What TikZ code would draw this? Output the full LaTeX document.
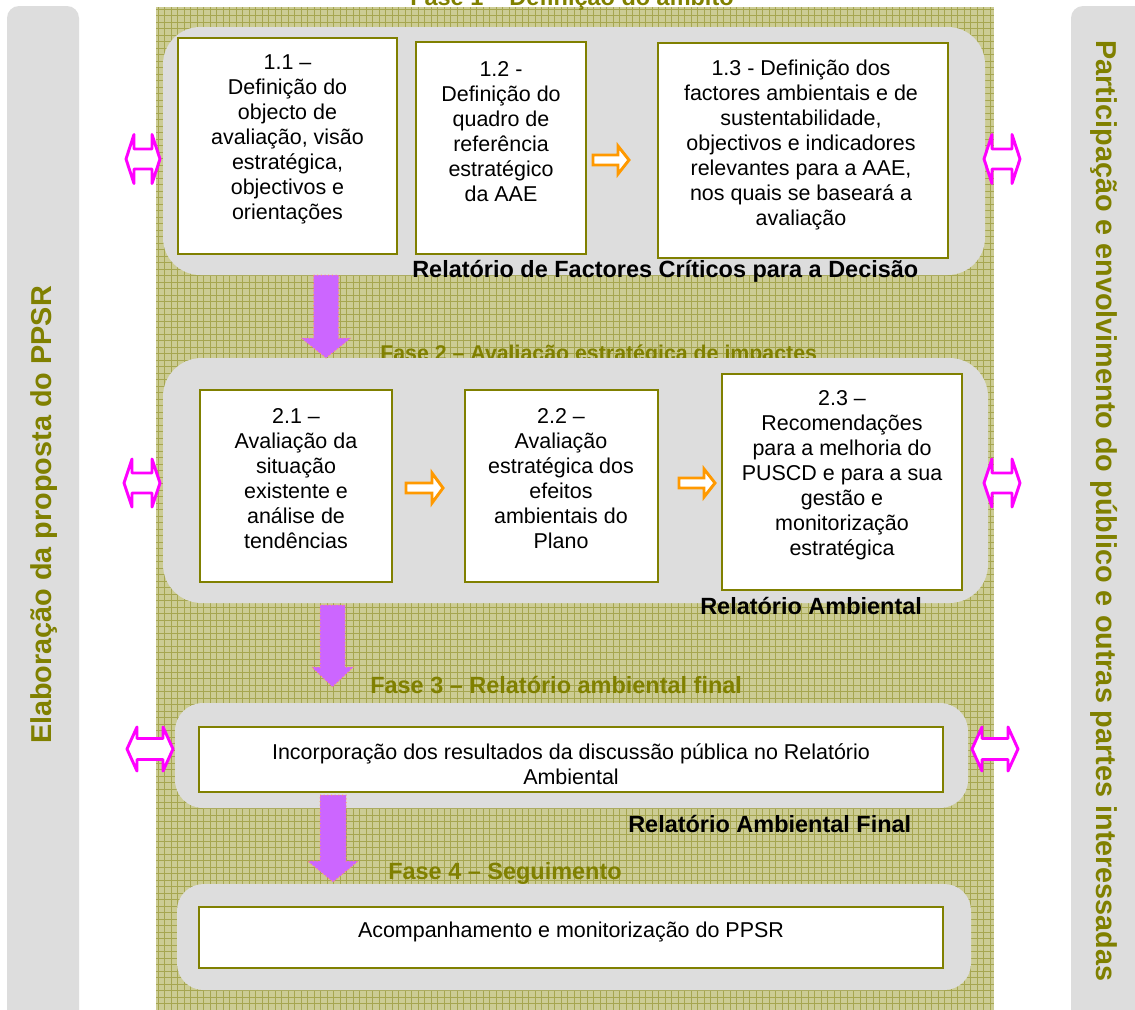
\documentclass[tikz,border=0pt]{standalone}
\usepackage{fontspec}
\setmainfont{Liberation Sans}
\usetikzlibrary{fit}
\definecolor{olive}{RGB}{128,128,0}
\definecolor{panel}{RGB}{221,221,221}
\definecolor{hatchbg}{RGB}{204,204,148}
\definecolor{hatchln}{RGB}{166,166,80}
\definecolor{purp}{RGB}{204,102,255}
\definecolor{purpedge}{RGB}{255,153,102}
\definecolor{pinkln}{RGB}{255,0,255}
\definecolor{orangeln}{RGB}{255,153,0}
\newcommand\purarr[6]{\draw[purarrow] (#1-#4,#2) -- (#1+#4,#2) -- (#1+#4,#6) -- (#1+#5,#6) -- (#1,#3) -- (#1-#5,#6) -- (#1-#4,#6) -- cycle;}
\newcommand\pkarr[6]{\draw[pinkarrow] (#1,#3) -- (#1+#6,#3-#4) -- (#1+#6,#3-#5) -- (#2-#6,#3-#5) -- (#2-#6,#3-#4) -- (#2,#3) -- (#2-#6,#3+#4) -- (#2-#6,#3+#5) -- (#1+#6,#3+#5) -- (#1+#6,#3+#4) -- cycle;}
\newcommand\orarr[6]{\draw[orangearrow] (#1,#3-#5) -- (#2-#6,#3-#5) -- (#2-#6,#3-#4) -- (#2,#3) -- (#2-#6,#3+#4) -- (#2-#6,#3+#5) -- (#1,#3+#5) -- cycle;}
\begin{document}
\begin{tikzpicture}[x=0.75pt,y=-0.75pt,
  phasebox/.style={fill=panel, inner sep=0pt, rounded corners=#1},
  stepbox/.style={draw=olive, fill=white, line width=1.5pt, inner sep=0pt},
  bodytxt/.style={align=center, inner sep=0pt, font=\fontsize{16.1pt}{18.75pt}\selectfont},
  heading/.style={anchor=base west, inner sep=0pt, font=\bfseries\fontsize{17.6pt}{21pt}\selectfont},
  sidetxt/.style={inner sep=0pt, text=olive, font=\bfseries\fontsize{21.6pt}{26pt}\selectfont},
  purarrow/.style={fill=purp, draw=purpedge, line width=0.75pt, dotted},
  pinkarrow/.style={fill=white, draw=pinkln, line width=2.2pt, line join=round},
  orangearrow/.style={fill=white, draw=orangeln, line width=2.2pt, line join=miter}]
\useasboundingbox (0,0) rectangle (1135,1010);
\fill[white] (0,0) rectangle (1135,1010);
% side bars
\fill[panel, rounded corners=9pt] (7,6) rectangle (79,1040);
\fill[panel, rounded corners=9pt] (1071,6) rectangle (1160,1040);
\node[sidetxt, rotate=90] (leftlbl) at (44,515) {Elaboração da proposta do PPSR};
\node[sidetxt, rotate=-90] (rightlbl) at (1104,511) {Participação e envolvimento do público e outras partes interessadas};
% hatched background
\fill[hatchbg] (156,7) rectangle (994,1010);
\begin{scope}
\clip (156,7) rectangle (994,1010);
\foreach \x in {158,164.5,...,994} \draw[hatchln, line width=0.65pt] (\x,7) -- (\x,1010);
\foreach \y in {9,15.5,...,1010} \draw[hatchln, line width=0.65pt] (156,\y) -- (994,\y);
\end{scope}
% phase titles
\node[heading, text=olive] (f1) at (410,5) {Fase 1 – Definição do âmbito};
\node[heading, text=olive, font=\bfseries\fontsize{16pt}{19pt}\selectfont] (f2) at (380,360) {Fase 2 – Avaliação estratégica de impactes};
% phase panels
\node[phasebox=28pt, fit={(163,27) (985,275)}] (p1) {};
\node[phasebox=29pt, fit={(163,358) (988,603)}] (p2) {};
\node[phasebox=21pt, fit={(175,703) (968,808)}] (p3) {};
\node[phasebox=20pt, fit={(177,884) (971,990)}] (p4) {};
% step boxes
\node[stepbox, fit={(178,38) (397,254)}] (b11) {};
\node[stepbox, fit={(416,42) (586,254)}] (b12) {};
\node[stepbox, fit={(658,43) (948,258)}] (b13) {};
\node[stepbox, fit={(200,390) (392,582)}] (b21) {};
\node[stepbox, fit={(465,390) (658,582)}] (b22) {};
\node[stepbox, fit={(722,374) (962,590)}] (b23) {};
\node[stepbox, fit={(199,727) (943,792)}] (b3) {};
\node[stepbox, fit={(199,907) (943,968)}] (b4) {};
% texts
\node[bodytxt] (t11) at (287.5,139) {1.1 –\\Definição do\\objecto de\\avaliação, visão\\estratégica,\\objectivos e\\orientações};
\node[bodytxt] (t12) at (501,131.5) {1.2 -\\Definição do\\quadro de\\referência\\estratégico\\da AAE};
\node[bodytxt] (t13) at (801,145) {1.3 - Definição dos\\factores ambientais e de\\sustentabilidade,\\objectivos e indicadores\\relevantes para a AAE,\\nos quais se baseará a\\avaliação};
\node[bodytxt] (t21) at (296,479) {2.1 –\\Avaliação da\\situação\\existente e\\análise de\\tendências};
\node[bodytxt] (t22) at (561,479) {2.2 –\\Avaliação\\estratégica dos\\efeitos\\ambientais do\\Plano};
\node[bodytxt] (t23) at (842,475.5) {2.3 –\\Recomendações\\para a melhoria do\\PUSCD e para a sua\\gestão e\\monitorização\\estratégica};
\node[bodytxt] (t3) at (571,764) {Incorporação dos resultados da discussão pública no Relatório\\Ambiental};
\node[bodytxt] (t4) at (571,932) {Acompanhamento e monitorização do PPSR};
% orange arrows
\orarr{593}{629}{160}{14}{5}{11}
\orarr{406}{443}{488}{15}{5}{11}
\orarr{679}{715}{483}{14}{5}{11}
% purple arrows
\purarr{326}{275}{358}{12.5}{25}{338}
\purarr{332.5}{605}{687}{12.5}{21}{667}
\purarr{333}{795}{882}{13}{25.5}{861}
% pink double arrows
\pkarr{126}{160}{159}{24.5}{10}{8}
\pkarr{984}{1020}{159}{24.5}{10}{8}
\pkarr{124}{160}{483}{24}{10}{8}
\pkarr{984}{1020}{483}{24}{10}{8}
\pkarr{127}{173}{749}{22}{10.5}{10}
\pkarr{972}{1018}{749}{22}{10.5}{10}
% headings
\node[heading] (r1) at (412,277) {Relatório de Factores Críticos para a Decisão};
\node[heading] (r2) at (700,614) {Relatório Ambiental};
\node[heading, text=olive] (f3) at (370,693) {Fase 3 – Relatório ambiental final};
\node[heading] (r3) at (628,832) {Relatório Ambiental Final};
\node[heading, text=olive] (f4) at (388,879) {Fase 4 – Seguimento};
\end{tikzpicture}
\end{document}
